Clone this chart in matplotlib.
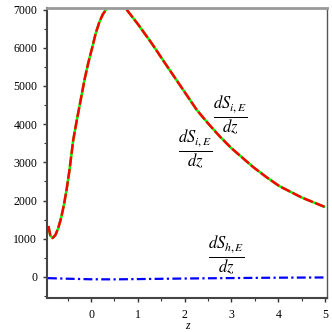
import matplotlib
matplotlib.use('Agg')
import matplotlib.pyplot as plt
import numpy as np
from matplotlib.ticker import MultipleLocator

plt.rcParams['font.family'] = ['Liberation Serif', 'DejaVu Serif']
plt.rcParams['mathtext.fontset'] = 'stix'

# rising branch (clipped at 7000) and falling branch
z_up = [-0.91, -0.87, -0.82, -0.76, -0.70, -0.64, -0.58, -0.52, -0.46, -0.38,
        -0.30, -0.22, -0.14, -0.06, 0.02, 0.10, 0.18, 0.25, 0.32]
v_up = [1335, 1090, 1020, 1100, 1280, 1540, 1880, 2300, 2800, 3586,
        4130, 4640, 5157, 5600, 5980, 6380, 6680, 6870, 7000]
z_down = [0.76, 1.0, 1.3, 1.6, 2.0, 2.26, 2.5, 2.76, 3.0, 3.46, 3.75, 4.02, 4.5, 5.0]
v_down = [7000, 6620, 6110, 5560, 4840, 4370, 4020, 3665, 3370, 2880, 2610, 2380, 2080, 1830]

# dS_h,E/dz stays close to zero
z_h = [-0.92, -0.5, 0.0, 0.5, 1.0, 2.0, 3.0, 4.0, 5.0]
v_h = [-30, -45, -60, -62, -55, -40, -28, -18, -12]

z_i = z_up + [np.nan] + z_down
v_i = v_up + [np.nan] + v_down

fig = plt.figure(figsize=(3.32, 3.32), dpi=100)
ax = fig.add_axes([0.1416, 0.1024, 0.8434, 0.8736])

ax.plot(z_i, v_i, color='#00ff00', linewidth=1.8, solid_capstyle='butt')
ax.plot(z_i, v_i, color='#ff0000', linewidth=1.8, dashes=(4, 1))
ax.plot(z_h, v_h, color='#0000ff', linewidth=1.6, dashes=(4, 1.5, 1, 1.5))

ax.set_xlim(-0.94, 5.04)
ax.set_ylim(-550, 7042)
ax.xaxis.set_major_locator(MultipleLocator(1))
ax.xaxis.set_minor_locator(MultipleLocator(0.5))
ax.yaxis.set_major_locator(MultipleLocator(1000))
ax.yaxis.set_minor_locator(MultipleLocator(500))
ax.tick_params(which='major', direction='out', length=3, width=1, labelsize=8.5, pad=4, color='#333333')
ax.tick_params(which='minor', direction='out', length=2, width=0.8, color='#333333')
ax.tick_params(axis='x', pad=5)

ax.spines['top'].set_color('#999999')
ax.spines['top'].set_linewidth(2)
ax.spines['left'].set_color('#444444')
ax.spines['left'].set_linewidth(1.5)
ax.spines['bottom'].set_color('#444444')
ax.spines['bottom'].set_linewidth(1.5)
ax.spines['right'].set_color('#555555')
ax.spines['right'].set_linewidth(1)

ax.set_xlabel('z', fontsize=8.5, fontstyle='italic', labelpad=-1)

ax.text(2.97, 4190, r'$\frac{dS_{i,E}}{dz}$', fontsize=17, ha='center', va='center')
ax.text(2.22, 3300, r'$\frac{dS_{i,E}}{dz}$', fontsize=17, ha='center', va='center')
ax.text(2.88, 550, r'$\frac{dS_{h,E}}{dz}$', fontsize=17, ha='center', va='center')

fig.savefig('out.png', dpi=100)
